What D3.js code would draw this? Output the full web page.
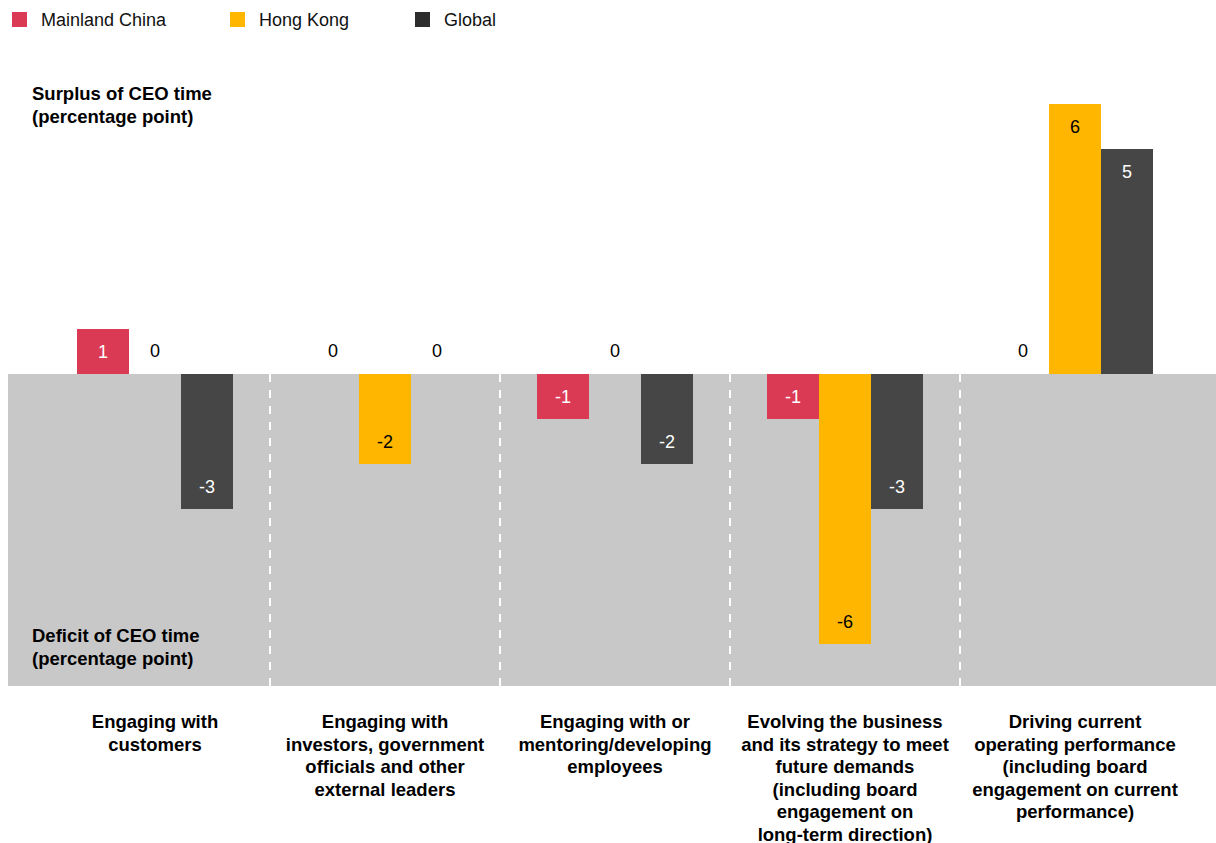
<!DOCTYPE html>
<html>
<head>
<meta charset="utf-8">
<script src="https://cdn.jsdelivr.net/npm/d3@7"></script>
<style>
  html, body { margin: 0; padding: 0; background: #fff; }
  svg { display: block; font-family: "Liberation Sans", Arial, sans-serif; }
</style>
</head>
<body>
<svg id="chart" width="1216" height="843"></svg>
<script>
const categories = [
  ["Engaging with", "customers"],
  ["Engaging with", "investors, government", "officials and other", "external leaders"],
  ["Engaging with or", "mentoring/developing", "employees"],
  ["Evolving the business", "and its strategy to meet", "future demands", "(including board", "engagement on", "long-term direction)"],
  ["Driving current", "operating performance", "(including board", "engagement on current", "performance)"]
];
const series = ["Mainland China", "Hong Kong", "Global"];
const mainlandChina = [1, 0, -1, -1, 0];
const hongKong = [0, -2, 0, -6, 6];
const global = [-3, 0, -2, -3, 5];
const seriesValues = [mainlandChina, hongKong, global];
const barColors = ["#DB3A55", "#FFB600", "#464646"];
const legendColors = ["#DB3A55", "#FFB600", "#2D2D2D"];
const labelColors = ["#fff", "#000", "#fff"];

const svg = d3.select("#chart");
const catKeys = categories.map((c, i) => "c" + i);

const x0 = d3.scaleBand().domain(catKeys).range([40, 1190]).padding(0);
const x1 = d3.scaleBand().domain(series).range([0, x0.bandwidth()]).paddingInner(0).paddingOuter(0.7115);
const y = d3.scaleLinear().domain([-7, 6]).range([689, 104]);
const plotBottom = 686;

// grey deficit area
svg.append("rect")
  .attr("x", 8).attr("y", y(0))
  .attr("width", 1216 - 8).attr("height", plotBottom - y(0))
  .attr("fill", "#C8C8C8");

// dividers
svg.append("g").selectAll("line")
  .data(catKeys.slice(1))
  .join("line")
  .attr("x1", d => x0(d)).attr("x2", d => x0(d))
  .attr("y1", y(0)).attr("y2", plotBottom)
  .attr("stroke", "#fff").attr("stroke-width", 2)
  .attr("stroke-dasharray", "8,8");

// bars
const barData = [];
series.forEach((s, si) => {
  seriesValues[si].forEach((v, ci) => {
    barData.push({ s, si, ci, v, cat: catKeys[ci] });
  });
});

svg.append("g").selectAll("rect")
  .data(barData.filter(d => d.v !== 0))
  .join("rect")
  .attr("x", d => x0(d.cat) + x1(d.s))
  .attr("y", d => y(Math.max(0, d.v)))
  .attr("width", x1.bandwidth())
  .attr("height", d => Math.abs(y(d.v) - y(0)))
  .attr("fill", d => barColors[d.si]);

// value labels
svg.append("g").selectAll("text")
  .data(barData)
  .join("text")
  .attr("x", d => x0(d.cat) + x1(d.s) + x1.bandwidth() / 2)
  .attr("y", d => {
    if (d.v > 0) return y(d.v) + 23;
    if (d.v < 0) return y(d.v) - 22;
    return y(0) - 23;
  })
  .attr("dy", "0.35em")
  .attr("text-anchor", "middle")
  .attr("font-size", 18)
  .attr("fill", d => d.v === 0 ? "#000" : labelColors[d.si])
  .text(d => d.v);

// axis titles
const titles = [
  { lines: ["Surplus of CEO time", "(percentage point)"], y0: 100 },
  { lines: ["Deficit of CEO time", "(percentage point)"], y0: 642 }
];
titles.forEach(t => {
  const tx = svg.append("text")
    .attr("x", 32).attr("y", t.y0)
    .attr("font-size", 18.5).attr("font-weight", "bold").attr("fill", "#000");
  t.lines.forEach((l, i) => {
    tx.append("tspan").attr("x", 32).attr("dy", i === 0 ? 0 : 22.5).text(l);
  });
});

// category labels
const catG = svg.append("g");
categories.forEach((lines, ci) => {
  const cx = x0(catKeys[ci]) + x0.bandwidth() / 2;
  const tx = catG.append("text")
    .attr("x", cx).attr("y", 728)
    .attr("text-anchor", "middle")
    .attr("font-size", 18.5).attr("font-weight", "bold").attr("fill", "#000");
  lines.forEach((l, i) => {
    tx.append("tspan").attr("x", cx).attr("dy", i === 0 ? 0 : 22.5).text(l);
  });
});

// legend
const legendX = [12, 230, 415];
const lg = svg.append("g");
series.forEach((s, i) => {
  lg.append("rect")
    .attr("x", legendX[i]).attr("y", 12)
    .attr("width", 15).attr("height", 15)
    .attr("fill", legendColors[i]);
  lg.append("text")
    .attr("x", legendX[i] + 29).attr("y", 19.5)
    .attr("dy", "0.35em")
    .attr("font-size", 18).attr("fill", "#111")
    .text(s);
});
</script>
</body>
</html>
